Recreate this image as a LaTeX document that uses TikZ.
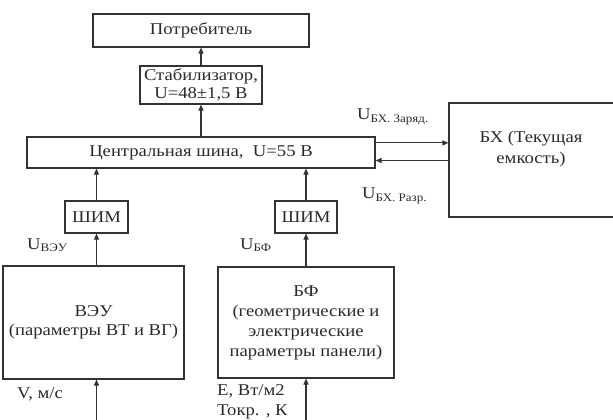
\documentclass[tikz,border=0pt]{standalone}
\usepackage{fontspec}
\setmainfont{Liberation Serif}[FakeStretch=1.13]
\usetikzlibrary{arrows.meta,calc}
\definecolor{ink}{HTML}{2A2A2A}
\definecolor{lineclr}{HTML}{333333}
\newcommand{\subU}[1]{U\raisebox{-2.5pt}{\fontsize{11.5}{12}\selectfont #1}}
\begin{document}
\begin{tikzpicture}[x=1pt,y=-1pt,
  font=\fontsize{16.5}{19.5}\selectfont,
  box/.style={draw=lineclr,line width=1.1pt,inner sep=0pt,align=center,text=ink},
  arr/.style={draw=lineclr,line width=1.1pt,-{Triangle[length=6pt,width=5pt]}},
  lbl/.style={text=ink,inner sep=0pt,anchor=west}]
\useasboundingbox (0,0) rectangle (613,420);
\node[box,minimum width=216,minimum height=33] (potr) at (201,30.5) {Потребитель};
\node[box,minimum width=122,minimum height=38,font=\fontsize{16.5}{17.5}\selectfont] (stab) at (201,85) {Стабилизатор,\\U=48±1,5 В};
\node[box,minimum width=348,minimum height=31] (bus) at (201,152.5) {Центральная шина,\ \ U=55 В};
\node[box,minimum width=166,minimum height=114,align=center] (bx) at (532,160) {};
\node[text=ink,align=center,inner sep=0pt,font=\fontsize{16.5}{21}\selectfont] (bxt) at (531,149) {БХ (Текущая\\емкость)};
\node[box,minimum width=63,minimum height=32] (shim1) at (96.5,217) {ШИМ};
\node[box,minimum width=62,minimum height=32] (shim2) at (306,217) {ШИМ};
\node[box,minimum width=181,minimum height=113] (veu) at (93.5,322.5) {ВЭУ\\(параметры ВТ и ВГ)};
\node[box,minimum width=176,minimum height=111,font=\fontsize{16.5}{20}\selectfont] (bf) at (306,322.5) {БФ\\(геометрические и\\электрические\\параметры панели)};
\node[lbl] (uveu) at (27,245) {\subU{ВЭУ}};
\node[lbl] (ubf) at (240,245) {\subU{БФ}};
\node[lbl] (uzar) at (357,117) {\subU{БХ. Заряд.}};
\node[lbl] (urazr) at (362,196) {\subU{БХ. Разр.}};
\node[lbl] (vin) at (17,394) {V, м/с};
\node[lbl,align=left] (ein) at (217,402) {E, Вт/м2\\Токр. , К};
\coordinate (in1) at (96.5,420);
\coordinate (in2) at (306,420);
\draw[arr] (stab.north) -- (potr.south);
\draw[arr] (stab.south |- bus.north) -- (stab.south);
\draw[arr] (shim1.north) -- (shim1.north |- bus.south);
\draw[arr] (shim2.north) -- (shim2.north |- bus.south);
\draw[arr] (shim1.south |- veu.north) -- (shim1.south);
\draw[arr] (shim2.south |- bf.north) -- (shim2.south);
\draw[arr] (in1) -- (in1 |- veu.south);
\draw[arr] (in2) -- (in2 |- bf.south);
\coordinate (c1) at ($(bus.north east)!0.2!(bus.south east)$);
\coordinate (c2) at ($(bus.north east)!0.75!(bus.south east)$);
\draw[arr] (c1) -- (c1 -| bx.west);
\draw[arr] (c2 -| bx.west) -- (c2);
\end{tikzpicture}
\end{document}
